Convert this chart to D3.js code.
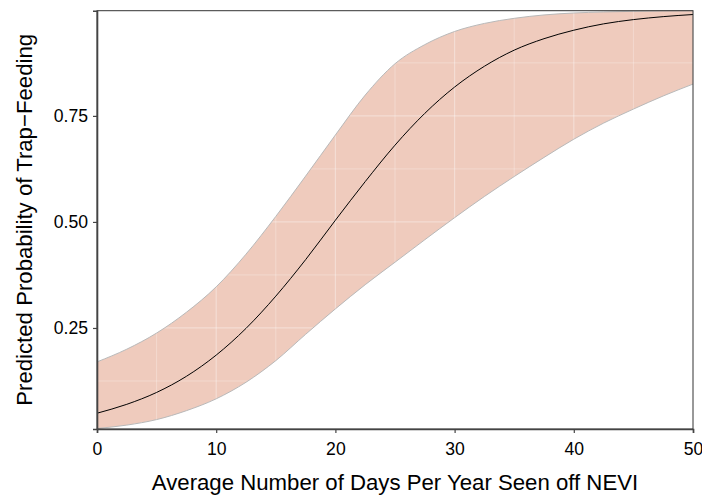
<!DOCTYPE html>
<html>
<head>
<meta charset="utf-8">
<script src="https://cdn.jsdelivr.net/npm/d3@7"></script>
<style>
  body { margin: 0; background: #fff; }
  text { font-family: "Liberation Sans", Arial, Helvetica, sans-serif; }
</style>
</head>
<body>
<div id="chart"></div>
<script>
// values (every 2.5 days)
const days = [0, 2.5, 5, 7.5, 10, 12.5, 15, 17.5, 20, 22.5, 25, 27.5, 30, 32.5, 35, 37.5, 40, 42.5, 45, 47.5, 50];
const fit = [0.049, 0.070, 0.098, 0.136, 0.186, 0.249, 0.325, 0.411, 0.504, 0.595, 0.681, 0.756, 0.818, 0.867, 0.905, 0.932, 0.952, 0.967, 0.977, 0.984, 0.989];
const upper = [0.170, 0.200, 0.238, 0.287, 0.347, 0.424, 0.513, 0.608, 0.705, 0.799, 0.873, 0.918, 0.949, 0.968, 0.980, 0.988, 0.9926, 0.995, 0.9965, 0.9975, 0.998];
const lower = [0.013, 0.021, 0.034, 0.055, 0.083, 0.122, 0.173, 0.235, 0.295, 0.352, 0.405, 0.458, 0.510, 0.560, 0.607, 0.652, 0.695, 0.733, 0.766, 0.797, 0.825];
const xTicks = [0, 10, 20, 30, 40, 50];
const yTicks = [0.25, 0.50, 0.75];
const xMinor = [5, 15, 25, 35, 45];
const yMinor = [0.125, 0.375, 0.625, 0.875];

const w = 702, h = 496;
const margin = {top: 10.7, right: 9, bottom: 67, left: 97};

const rows = days.map(function(d, i) {
  return {x: d, y: fit[i], lo: lower[i], hi: upper[i]};
});

const svg = d3.select("#chart").append("svg")
  .attr("width", w)
  .attr("height", h);

const x = d3.scaleLinear()
  .domain([0, 50])
  .range([margin.left, w - margin.right]);

const y = d3.scaleLinear()
  .domain([0.0118, 0.998])
  .range([h - margin.bottom, margin.top]);

const curve = d3.curveMonotoneX;

// ribbon
svg.append("path")
  .datum(rows)
  .attr("fill", "#efcbbd")
  .attr("d", d3.area()
    .x(function(d) { return x(d.x); })
    .y0(function(d) { return y(d.lo); })
    .y1(function(d) { return y(d.hi); })
    .curve(curve));

// white grid, only visible through the ribbon
const g = svg.append("g").attr("stroke", "#fff").attr("stroke-opacity", 0.35);
g.selectAll(".vx").data(xTicks.concat(xMinor)).enter().append("line")
  .attr("x1", x).attr("x2", x)
  .attr("y1", margin.top).attr("y2", h - margin.bottom)
  .attr("stroke-width", function(d) { return d % 10 ? 0.8 : 1.2; });
g.selectAll(".hy").data(yTicks.concat(yMinor)).enter().append("line")
  .attr("y1", y).attr("y2", y)
  .attr("x1", margin.left).attr("x2", w - margin.right)
  .attr("stroke-width", function(d) { return (d * 8) % 2 ? 0.8 : 1.2; });

// ribbon edges
["lo", "hi"].forEach(function(k) {
  svg.append("path")
    .datum(rows)
    .attr("fill", "none")
    .attr("stroke", "#b9b9b9")
    .attr("stroke-width", 1)
    .attr("d", d3.line()
      .x(function(d) { return x(d.x); })
      .y(function(d) { return y(d[k]); })
      .curve(curve));
});

// fitted line
svg.append("path")
  .datum(rows)
  .attr("fill", "none")
  .attr("stroke", "#000")
  .attr("stroke-width", 1)
  .attr("d", d3.line()
    .x(function(d) { return x(d.x); })
    .y(function(d) { return y(d.y); })
    .curve(curve));

// panel border
svg.append("rect")
  .attr("x", margin.left)
  .attr("y", margin.top)
  .attr("width", w - margin.right - margin.left)
  .attr("height", h - margin.bottom - margin.top)
  .attr("fill", "none")
  .attr("stroke", "#333")
  .attr("stroke-width", 1);

const xAxis = svg.append("g")
  .attr("transform", "translate(0," + (h - margin.bottom) + ")")
  .call(d3.axisBottom(x).tickValues(xTicks).tickSize(4).tickPadding(10).tickFormat(d3.format("d")));

const yAxis = svg.append("g")
  .attr("transform", "translate(" + margin.left + ",0)")
  .call(d3.axisLeft(y).tickValues(yTicks).tickSize(4).tickPadding(5).tickFormat(d3.format(".2f")));

[xAxis, yAxis].forEach(function(a) {
  a.select(".domain").attr("stroke", "#444").attr("stroke-width", 1.6);
  a.selectAll(".tick line").attr("stroke", "#444").attr("stroke-width", 1.2);
  a.selectAll(".tick text")
    .attr("fill", "#000")
    .style("font-size", "17.6px")
    .style("font-family", "'Liberation Sans', Arial, sans-serif");
});

svg.append("text")
  .attr("x", (margin.left + w - margin.right) / 2)
  .attr("y", 490)
  .attr("text-anchor", "middle")
  .style("font-size", "22.2px")
  .text("Average Number of Days Per Year Seen off NEVI");

svg.append("text")
  .attr("transform", "translate(32," + ((margin.top + h - margin.bottom) / 2) + ") rotate(-90)")
  .attr("text-anchor", "middle")
  .style("font-size", "22.2px")
  .text("Predicted Probability of Trap\u2212Feeding");
</script>
</body>
</html>
